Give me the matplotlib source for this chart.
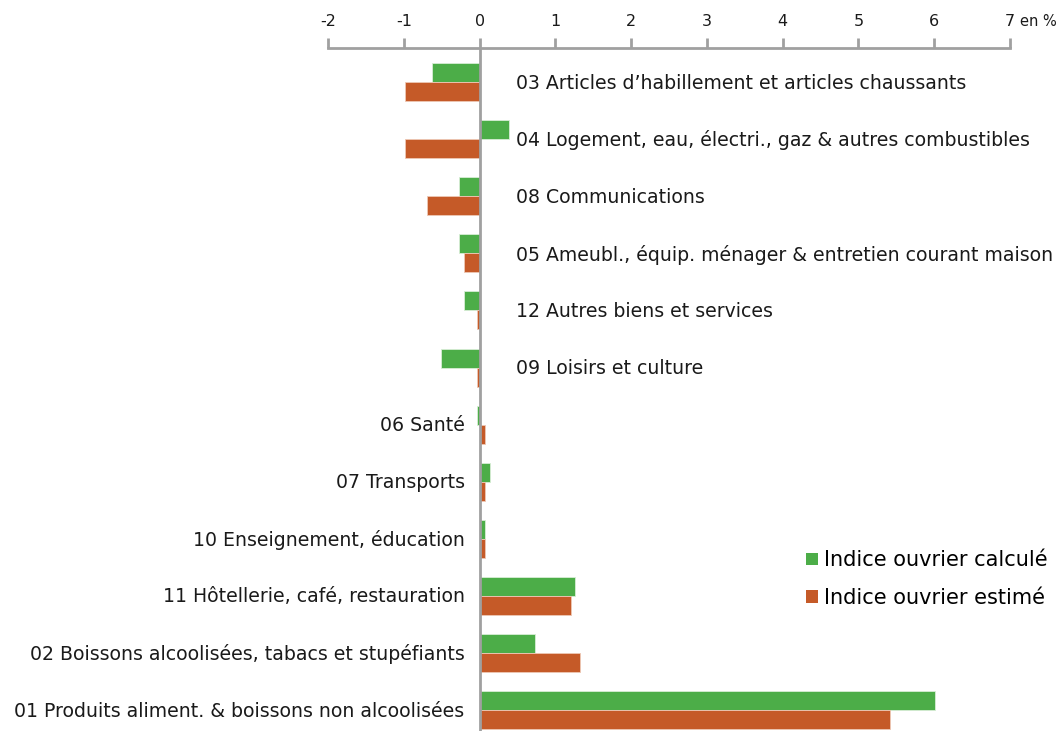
import matplotlib
matplotlib.use("Agg")
import matplotlib.pyplot as plt
from matplotlib.patches import Patch
import numpy as np

categories = [
    "03 Articles d\u2019habillement et articles chaussants",
    "04 Logement, eau, \u00e9lectri., gaz & autres combustibles",
    "08 Communications",
    "05 Ameubl., \u00e9quip. m\u00e9nager & entretien courant maison",
    "12 Autres biens et services",
    "09 Loisirs et culture",
    "06 Sant\u00e9",
    "07 Transports",
    "10 Enseignement, \u00e9ducation",
    "11 H\u00f4tellerie, caf\u00e9, restauration",
    "02 Boissons alcoolis\u00e9es, tabacs et stup\u00e9fiants",
    "01 Produits aliment. & boissons non alcoolis\u00e9es",
]
calcule = [-0.63, 0.39, -0.27, -0.27, -0.21, -0.51, -0.03, 0.13, 0.07, 1.26, 0.73, 6.01]
estime = [-0.99, -0.99, -0.69, -0.21, -0.03, -0.03, 0.07, 0.07, 0.07, 1.21, 1.33, 5.41]
label_right = [True, True, True, True, True, True, False, False, False, False, False, False]
xticks = [-2, -1, 0, 1, 2, 3, 4, 5, 6, 7]
series_names = ["Indice ouvrier calcul\u00e9", "Indice ouvrier estim\u00e9"]

green = "#4CAD48"
orange = "#C55A28"
gray = "#A0A0A0"

fig = plt.figure(figsize=(10.62, 7.31), dpi=100)
ax = fig.add_axes([0.309, 0.0, 0.642, 0.934])

y = np.arange(len(categories))
h = 0.333
ax.barh(y - h / 2, calcule, height=h, color=green, edgecolor="#D8EED6", linewidth=0.6)
ax.barh(y + h / 2, estime, height=h, color=orange, edgecolor="#EEC8B5", linewidth=0.6)

ax.set_xlim(-2, 7)
ax.set_ylim(11.37, -0.595)

for i, (cat, right) in enumerate(zip(categories, label_right)):
    if right:
        ax.text(0.48, i + 0.02, cat, ha="left", va="center", fontsize=13.6, color="#1a1a1a")
    else:
        ax.text(-0.2, i + 0.02, cat, ha="right", va="center", fontsize=13.6, color="#1a1a1a")

ax.axvline(0, color=gray, lw=2, zorder=5)

for s in ["left", "right", "bottom"]:
    ax.spines[s].set_visible(False)
ax.spines["top"].set_color(gray)
ax.spines["top"].set_linewidth(2)
ax.spines["top"].set_bounds(-2, 7)
ax.xaxis.set_ticks_position("top")
ax.set_xticks(xticks)
ax.set_xticklabels([str(t) for t in xticks])
ax.tick_params(axis="x", direction="out", length=7.5, width=2, color=gray,
               labelsize=11.5, labelcolor="#1a1a1a", pad=6)
ax.set_yticks([])

fig.text(1020 / 1062, 1 - 21 / 731, "en %", fontsize=10.5, color="#1a1a1a", va="center", ha="left")

handles = [Patch(facecolor=green, edgecolor="none"), Patch(facecolor=orange, edgecolor="none")]
fig.legend(handles, series_names, loc="upper left", bbox_to_anchor=(796 / 1062, 1 - 540 / 731),
           frameon=False, fontsize=15, handlelength=0.55, handleheight=0.55, handletextpad=0.3,
           labelspacing=0.85, borderpad=0)

fig.savefig("out.png", dpi=100)
